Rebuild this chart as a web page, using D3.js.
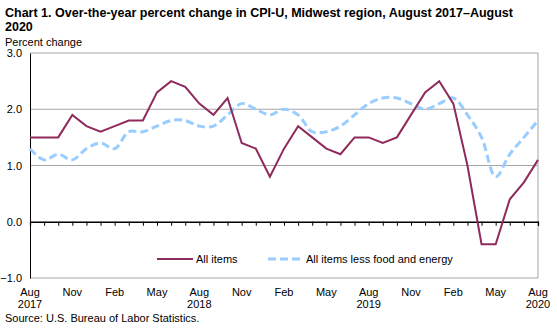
<!DOCTYPE html>
<html>
<head>
<meta charset="utf-8">
<script src="https://cdn.jsdelivr.net/npm/d3@7"></script>
<style>
  body { margin: 0; background: #fff; }
  svg text { font-family: "Liberation Sans", Arial, sans-serif; fill: #000; }
</style>
</head>
<body>
<script>
// monthly data, Aug 2017 - Aug 2020
var months = ["Aug","Sep","Oct","Nov","Dec","Jan","Feb","Mar","Apr","May","Jun","Jul",
  "Aug","Sep","Oct","Nov","Dec","Jan","Feb","Mar","Apr","May","Jun","Jul",
  "Aug","Sep","Oct","Nov","Dec","Jan","Feb","Mar","Apr","May","Jun","Jul","Aug"];
var years = {0: "2017", 12: "2018", 24: "2019", 36: "2020"};
var allItems = [1.5,1.5,1.5,1.9,1.7,1.6,1.7,1.8,1.8,2.3,2.5,2.4,
  2.1,1.9,2.2,1.4,1.3,0.8,1.3,1.7,1.5,1.3,1.2,1.5,
  1.5,1.4,1.5,1.9,2.3,2.5,2.1,1.0,-0.4,-0.4,0.4,0.7,1.1];
var lessFoodEnergy = [1.3,1.1,1.2,1.1,1.3,1.4,1.3,1.6,1.6,1.7,1.8,1.8,
  1.7,1.7,1.9,2.1,2.0,1.9,2.0,1.9,1.6,1.6,1.7,1.9,
  2.1,2.2,2.2,2.1,2.0,2.1,2.2,1.9,1.5,0.8,1.2,1.5,1.8];
var yTicks = [-1, 0, 1, 2, 3];

var width = 557, height = 328;
var margin = {top: 53, right: 19, bottom: 50, left: 30};
var w = width - margin.left - margin.right;
var h = height - margin.top - margin.bottom;

var svg = d3.select("body").append("svg")
  .attr("width", width)
  .attr("height", height);

// title
svg.append("text").attr("x", 5).attr("y", 17)
  .style("font-size", "12.5px").style("font-weight", "bold")
  .text("Chart 1. Over-the-year percent change in CPI-U, Midwest region, August 2017\u2013August");
svg.append("text").attr("x", 5).attr("y", 31)
  .style("font-size", "12.5px").style("font-weight", "bold")
  .text("2020");
svg.append("text").attr("x", 5).attr("y", 46)
  .style("font-size", "11px")
  .text("Percent change");

var g = svg.append("g")
  .attr("transform", "translate(" + margin.left + "," + margin.top + ")");

var x = d3.scaleLinear().domain([0, months.length - 1]).range([0, w]);
var y = d3.scaleLinear().domain([-1, 3]).range([h, 0]);

// grid lines
g.selectAll("line.grid")
  .data(yTicks.filter(function (d) { return d !== 0; }))
  .enter().append("line")
  .attr("class", "grid")
  .attr("x1", 0).attr("x2", w)
  .attr("y1", function (d) { return y(d); })
  .attr("y2", function (d) { return y(d); })
  .attr("stroke", "#a6a6a6").attr("stroke-width", 1);

// right border
g.append("line")
  .attr("x1", w).attr("x2", w).attr("y1", y(3)).attr("y2", y(-1))
  .attr("stroke", "#a6a6a6");

// y axis
var yAxis = g.append("g")
  .call(d3.axisLeft(y).tickValues(yTicks).tickSize(0).tickPadding(8)
    .tickFormat(d3.format(".1f")));
yAxis.select(".domain").attr("stroke", "#000");
yAxis.selectAll("text").style("font-size", "11px")
  .style("font-family", "Liberation Sans, Arial, sans-serif");

// zero axis with month ticks
var xAxis = g.append("g")
  .attr("transform", "translate(0," + y(0) + ")")
  .call(d3.axisBottom(x).tickValues(d3.range(months.length)).tickSize(4)
    .tickFormat(""));
xAxis.select(".domain").attr("stroke", "#000").attr("stroke-width", 1.3);
xAxis.selectAll(".tick line").attr("stroke", "#000");

// month labels every quarter
var labelIdx = d3.range(0, months.length, 3);
g.selectAll("text.month")
  .data(labelIdx)
  .enter().append("text")
  .attr("class", "month")
  .attr("x", function (d) { return x(d); })
  .attr("y", h + 18)
  .attr("text-anchor", "middle")
  .style("font-size", "11px")
  .text(function (d) { return months[d]; });
g.selectAll("text.year")
  .data(Object.keys(years).map(Number))
  .enter().append("text")
  .attr("class", "year")
  .attr("x", function (d) { return x(d); })
  .attr("y", h + 30)
  .attr("text-anchor", "middle")
  .style("font-size", "11px")
  .text(function (d) { return years[d]; });

// lines
var line = d3.line()
  .x(function (d, i) { return x(i); })
  .y(function (d) { return y(d); });
var smoothLine = d3.line()
  .x(function (d, i) { return x(i); })
  .y(function (d) { return y(d); })
  .curve(d3.curveCatmullRom.alpha(0.5));

g.append("path")
  .datum(lessFoodEnergy)
  .attr("d", smoothLine)
  .attr("fill", "none")
  .attr("stroke", "#99ccff")
  .attr("stroke-width", 3)
  .attr("stroke-dasharray", "8,4");

g.append("path")
  .datum(allItems)
  .attr("d", line)
  .attr("fill", "none")
  .attr("stroke", "#8e2a5c")
  .attr("stroke-width", 2);

// legend
var legY = 259;
svg.append("line").attr("x1", 157).attr("x2", 193).attr("y1", legY).attr("y2", legY)
  .attr("stroke", "#8e2a5c").attr("stroke-width", 2);
svg.append("text").attr("x", 196).attr("y", legY + 4).style("font-size", "11px")
  .text("All items");
svg.append("line").attr("x1", 268).attr("x2", 302).attr("y1", legY).attr("y2", legY)
  .attr("stroke", "#99ccff").attr("stroke-width", 3).attr("stroke-dasharray", "8,4");
svg.append("text").attr("x", 306).attr("y", legY + 4).style("font-size", "11px")
  .text("All items less food and energy");

// source
svg.append("text").attr("x", 5).attr("y", 322).style("font-size", "11px")
  .text("Source: U.S. Bureau of Labor Statistics.");
</script>
</body>
</html>
